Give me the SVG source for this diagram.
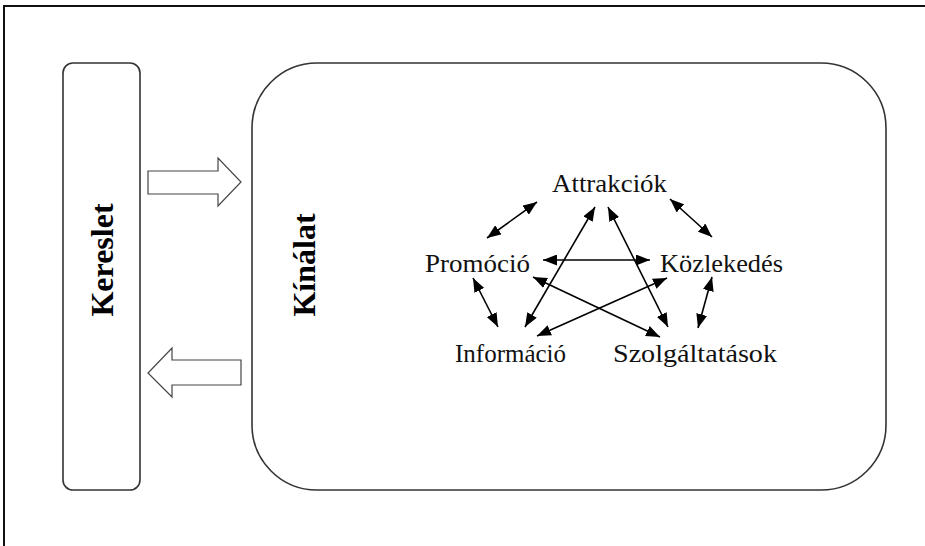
<svg xmlns="http://www.w3.org/2000/svg" width="925" height="546" viewBox="0 0 925 546">
<style>
.frame{fill:none;stroke:#111;stroke-width:2}
.box{fill:#fff;stroke:#333;stroke-width:1.6}
.blk{fill:#fff;stroke:#444;stroke-width:1.2;stroke-linejoin:miter}
.big{font-family:'Liberation Serif','Times New Roman',Times,serif;font-weight:bold;font-size:32px;fill:#000}
.lbl{font-family:'Liberation Serif','Times New Roman',Times,serif;font-size:25px;fill:#111}
.con{stroke:#000;stroke-width:1.6;fill:none;marker-start:url(#ah);marker-end:url(#ah)}
</style>
<defs>
<marker id="ah" viewBox="0 0 14 11" refX="14" refY="5.5" markerWidth="14" markerHeight="11" markerUnits="userSpaceOnUse" orient="auto-start-reverse">
<path d="M0,0 L14,5.5 L0,11 Z" fill="#000"/>
</marker>
</defs>
<rect width="925" height="546" fill="#fff"/>
<path class="frame" d="M4,560 L4,6 L930,6"/>
<g id="kereslet">
<rect class="box" x="63" y="63" width="77" height="427" rx="10" ry="10"/>
<text class="big" transform="translate(113,260) rotate(-90)" text-anchor="middle">Kereslet</text>
</g>
<g id="kinalat">
<rect class="box" x="252" y="63" width="634" height="427" rx="65" ry="65"/>
<text class="big" transform="translate(315,265) rotate(-90)" text-anchor="middle">Kínálat</text>
</g>
<g id="arrow-right">
<path class="blk" d="M148,171 L218,171 L218,158 L241,182 L218,206 L218,194 L148,194 Z"/>
</g>
<g id="arrow-left">
<path class="blk" d="M241,360 L172,360 L172,348 L148,373 L172,397 L172,385 L241,385 Z"/>
</g>
<g id="attrakciok"><text class="lbl" x="552" y="192" textLength="115" lengthAdjust="spacingAndGlyphs">Attrakciók</text></g>
<g id="promocio"><text class="lbl" x="425" y="272" textLength="105" lengthAdjust="spacingAndGlyphs">Promóció</text></g>
<g id="kozlekedes"><text class="lbl" x="660" y="272" textLength="123" lengthAdjust="spacingAndGlyphs">Közlekedés</text></g>
<g id="informacio"><text class="lbl" x="455" y="362" textLength="111" lengthAdjust="spacingAndGlyphs">Információ</text></g>
<g id="szolgaltatasok"><text class="lbl" x="613" y="362" textLength="164" lengthAdjust="spacingAndGlyphs">Szolgáltatások</text></g>
<g id="connectors">
<line class="con" x1="537" y1="202" x2="487" y2="238"/>
<line class="con" x1="670" y1="199" x2="712" y2="237"/>
<line class="con" x1="473" y1="278" x2="498" y2="327"/>
<line class="con" x1="712" y1="277" x2="698" y2="328"/>
<line class="con" x1="543" y1="260" x2="650" y2="260"/>
<line class="con" x1="595" y1="207" x2="525" y2="327"/>
<line class="con" x1="608" y1="207" x2="668" y2="327"/>
<line class="con" x1="533" y1="277" x2="660" y2="337"/>
<line class="con" x1="667" y1="278" x2="537" y2="336"/>
</g>
</svg>
